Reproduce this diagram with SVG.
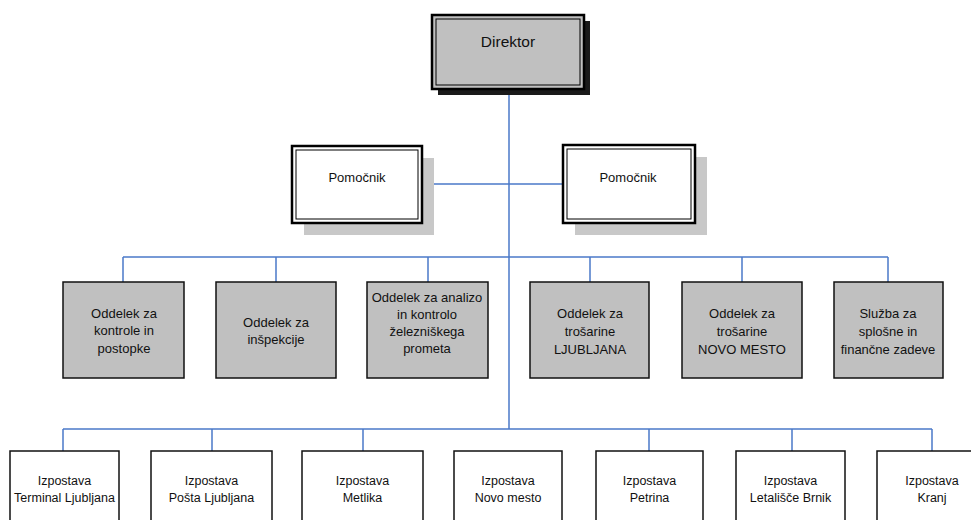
<svg xmlns="http://www.w3.org/2000/svg" width="971" height="520" viewBox="0 0 971 520">
<style>
  text { font-family: "Liberation Sans", Arial, sans-serif; fill: #111; text-anchor: middle; }
  .t13 { font-size: 13px; }
  .t12 { font-size: 12.5px; }
  .t16 { font-size: 15.5px; }
  .dept { fill: #c0c0c0; stroke: #111; stroke-width: 1.5; }
  .izp { fill: #ffffff; stroke: #111; stroke-width: 1.5; }
  .outer { stroke: #000; stroke-width: 2.5; }
  .inner { fill: none; stroke: #000; stroke-width: 1; }
  .conn { stroke: #4a78c8; stroke-width: 1.5; fill: none; }
</style>
<rect width="971" height="520" fill="#ffffff"/>

<g id="connectors">
  <line class="conn" x1="509" y1="89" x2="509" y2="429"/>
  <line class="conn" x1="422" y1="184" x2="563" y2="184"/>
  <line class="conn" x1="123" y1="257" x2="888" y2="257"/>
  <line class="conn" x1="123" y1="257" x2="123" y2="282"/>
  <line class="conn" x1="276" y1="257" x2="276" y2="282"/>
  <line class="conn" x1="428" y1="257" x2="428" y2="282"/>
  <line class="conn" x1="590" y1="257" x2="590" y2="282"/>
  <line class="conn" x1="742" y1="257" x2="742" y2="282"/>
  <line class="conn" x1="888" y1="257" x2="888" y2="282"/>
  <line class="conn" x1="63" y1="429" x2="932" y2="429"/>
  <line class="conn" x1="63" y1="429" x2="63" y2="451"/>
  <line class="conn" x1="212" y1="429" x2="212" y2="451"/>
  <line class="conn" x1="363" y1="429" x2="363" y2="451"/>
  <line class="conn" x1="649" y1="429" x2="649" y2="451"/>
  <line class="conn" x1="792" y1="429" x2="792" y2="451"/>
  <line class="conn" x1="932" y1="429" x2="932" y2="451"/>
</g>

<g id="direktor">
  <rect x="438" y="21" width="152" height="74" fill="#1a1a1a"/>
  <rect x="432" y="15" width="152" height="74" fill="#c0c0c0" class="outer"/>
  <rect x="436" y="19" width="144" height="66" class="inner"/>
  <text class="t16" x="508" y="47">Direktor</text>
</g>

<g id="pomocnik1">
  <rect x="304" y="158" width="130" height="77" fill="#c8c8c8"/>
  <rect x="292" y="146" width="130" height="77" fill="#ffffff" class="outer"/>
  <rect x="296" y="150" width="122" height="69" class="inner"/>
  <text class="t13" x="357" y="181.5">Pomočnik</text>
</g>

<g id="pomocnik2">
  <rect x="575" y="157" width="132" height="78" fill="#c8c8c8"/>
  <rect x="563" y="145" width="132" height="78" fill="#ffffff" class="outer"/>
  <rect x="567" y="149" width="124" height="70" class="inner"/>
  <text class="t13" x="628" y="181.5">Pomočnik</text>
</g>

<g id="odd1">
  <rect class="dept" x="63" y="282" width="121" height="96"/>
  <text class="t13" x="124" y="317.5">Oddelek za</text>
  <text class="t13" x="124" y="335">kontrole in</text>
  <text class="t13" x="124" y="352.5">postopke</text>
</g>
<g id="odd2">
  <rect class="dept" x="216" y="282" width="120" height="96"/>
  <text class="t13" x="276" y="326.5">Oddelek za</text>
  <text class="t13" x="276" y="344">inšpekcije</text>
</g>
<g id="odd3">
  <rect class="dept" x="367" y="282" width="121" height="96"/>
  <text class="t13" x="427" y="301.5">Oddelek za analizo</text>
  <text class="t13" x="427" y="318.5">in kontrolo</text>
  <text class="t13" x="427" y="335.5">železniškega</text>
  <text class="t13" x="427" y="353">prometa</text>
</g>
<g id="odd4">
  <rect class="dept" x="530" y="282" width="119" height="96"/>
  <text class="t13" x="590" y="317.5">Oddelek za</text>
  <text class="t13" x="590" y="335.5">trošarine</text>
  <text class="t13" x="590" y="353.5">LJUBLJANA</text>
</g>
<g id="odd5">
  <rect class="dept" x="682" y="282" width="120" height="96"/>
  <text class="t13" x="742" y="317.5">Oddelek za</text>
  <text class="t13" x="742" y="335.5">trošarine</text>
  <text class="t13" x="742" y="353.5">NOVO MESTO</text>
</g>
<g id="sluzba">
  <rect class="dept" x="834" y="282" width="109" height="96"/>
  <text class="t13" x="888" y="317.5">Služba za</text>
  <text class="t13" x="888" y="335.5">splošne in</text>
  <text class="t13" x="888" y="353.5">finančne zadeve</text>
</g>

<g id="izp1">
  <rect class="izp" x="10" y="451" width="109" height="90"/>
  <text class="t12" x="64.5" y="484.5">Izpostava</text>
  <text class="t12" x="64.5" y="501.5">Terminal Ljubljana</text>
</g>
<g id="izp2">
  <rect class="izp" x="151" y="451" width="121" height="90"/>
  <text class="t12" x="211.5" y="484.5">Izpostava</text>
  <text class="t12" x="211.5" y="501.5">Pošta Ljubljana</text>
</g>
<g id="izp3">
  <rect class="izp" x="302" y="451" width="121" height="90"/>
  <text class="t12" x="362.5" y="484.5">Izpostava</text>
  <text class="t12" x="362.5" y="501.5">Metlika</text>
</g>
<g id="izp4">
  <rect class="izp" x="454" y="451" width="108" height="90"/>
  <text class="t12" x="508" y="484.5">Izpostava</text>
  <text class="t12" x="508" y="501.5">Novo mesto</text>
</g>
<g id="izp5">
  <rect class="izp" x="596" y="451" width="107" height="90"/>
  <text class="t12" x="649.5" y="484.5">Izpostava</text>
  <text class="t12" x="649.5" y="501.5">Petrina</text>
</g>
<g id="izp6">
  <rect class="izp" x="736" y="451" width="109" height="90"/>
  <text class="t12" x="790.5" y="484.5">Izpostava</text>
  <text class="t12" x="790.5" y="501.5">Letališče Brnik</text>
</g>
<g id="izp7">
  <rect class="izp" x="877" y="451" width="113" height="90"/>
  <text class="t12" x="932" y="484.5">Izpostava</text>
  <text class="t12" x="932" y="501.5">Kranj</text>
</g>
</svg>
